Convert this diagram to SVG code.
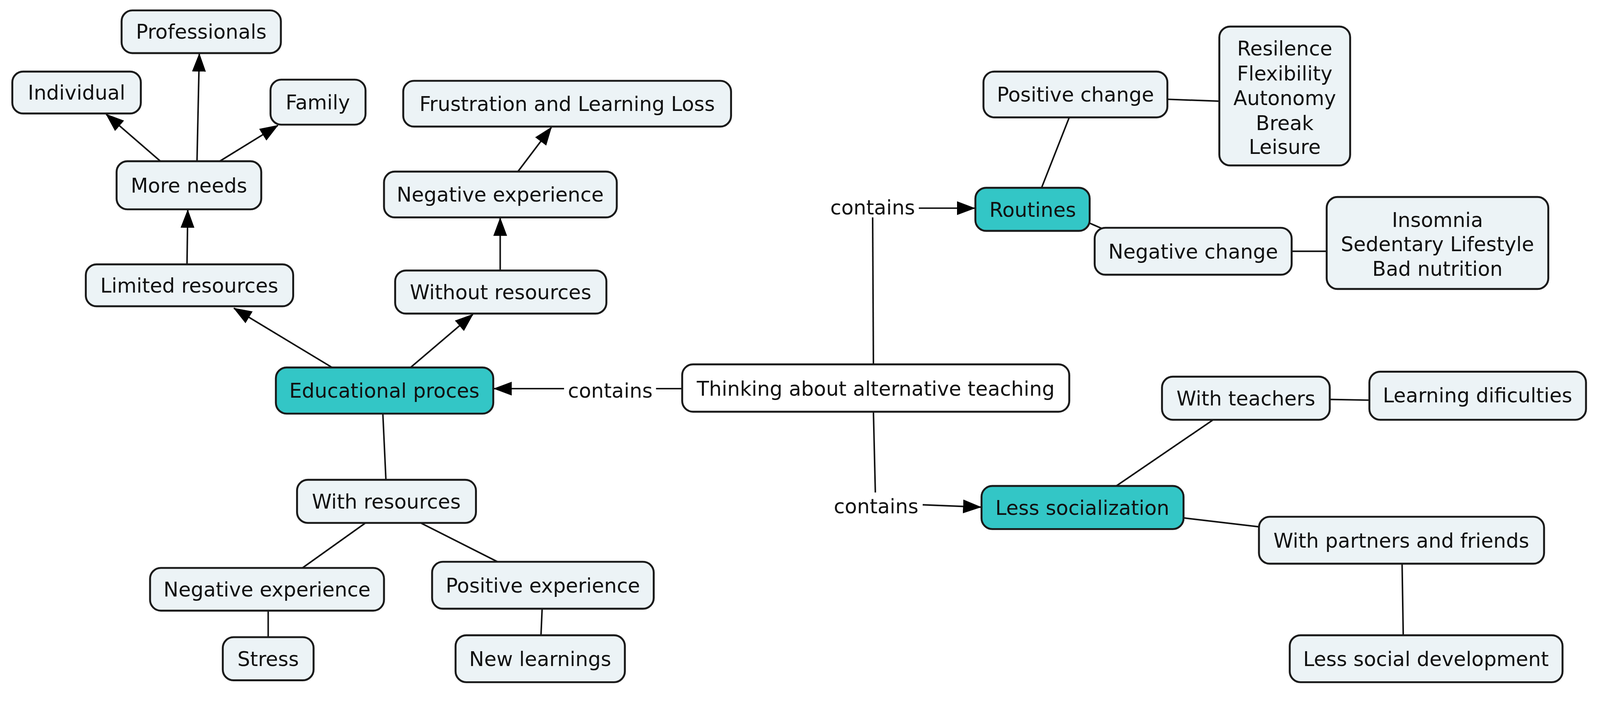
<svg xmlns="http://www.w3.org/2000/svg" width="4161" height="1815" viewBox="0 0 4161 1815">
<style>
.n{fill:#ECF3F6;stroke:#1a1a1a;stroke-width:5}
.t{fill:#33C6C6;stroke:#1a1a1a;stroke-width:5}
.w{fill:#ffffff;stroke:#1a1a1a;stroke-width:5}
text{font-family:"DejaVu Sans",Verdana,sans-serif;font-size:52px;fill:#111;text-anchor:middle}
.c line{stroke:#111;stroke-width:4}
</style>
<defs>
<marker id="a" markerUnits="userSpaceOnUse" markerWidth="48" markerHeight="36" refX="46" refY="18" orient="auto">
<path d="M0,0 L48,18 L0,36 Z" fill="#000"/>
</marker>
</defs>
<rect width="4161" height="1815" fill="#fff"/>
<g transform="scale(0.985)">
<g class="c" id="connectors">
<line x1="486" y1="687" x2="488" y2="546" marker-end="url(#a)"/>
<line x1="417" y1="419" x2="276" y2="297" marker-end="url(#a)"/>
<line x1="512" y1="419" x2="518" y2="140" marker-end="url(#a)"/>
<line x1="571" y1="419" x2="722" y2="326" marker-end="url(#a)"/>
<line x1="1300" y1="703" x2="1300" y2="567" marker-end="url(#a)"/>
<line x1="1346" y1="446" x2="1433" y2="331" marker-end="url(#a)"/>
<line x1="863" y1="955" x2="608" y2="801" marker-end="url(#a)"/>
<line x1="1067" y1="955" x2="1229" y2="817" marker-end="url(#a)"/>
<line x1="1773" y1="1010" x2="1705" y2="1010"/>
<line x1="1466" y1="1010" x2="1284" y2="1010" marker-end="url(#a)"/>
<line x1="995" y1="1075" x2="1003" y2="1247"/>
<line x1="950" y1="1359" x2="786" y2="1476"/>
<line x1="1093" y1="1359" x2="1293" y2="1460"/>
<line x1="697" y1="1587" x2="697" y2="1656"/>
<line x1="1409" y1="1582" x2="1406" y2="1651"/>
<line x1="2270" y1="947" x2="2268" y2="565"/>
<line x1="2388" y1="541" x2="2533" y2="541" marker-end="url(#a)"/>
<line x1="2270" y1="1070" x2="2275" y2="1280"/>
<line x1="2398" y1="1312" x2="2549" y2="1318" marker-end="url(#a)"/>
<line x1="2707" y1="488" x2="2779" y2="305"/>
<line x1="2832" y1="580" x2="2871" y2="597"/>
<line x1="3034" y1="258" x2="3169" y2="263"/>
<line x1="3357" y1="653" x2="3448" y2="653"/>
<line x1="2901" y1="1263" x2="3153" y2="1091"/>
<line x1="3456" y1="1038" x2="3559" y2="1040"/>
<line x1="3076" y1="1346" x2="3280" y2="1370"/>
<line x1="3644" y1="1465" x2="3647" y2="1651"/>
</g>
<g id="lbl-contains-1"><text x="1586" y="1034">contains</text></g>
<g id="lbl-contains-2"><text x="2268" y="557">contains</text></g>
<g id="lbl-contains-3"><text x="2277" y="1334">contains</text></g>
<g id="professionals"><rect class="n" x="316" y="27" width="414" height="111" rx="28"/><text x="523" y="101">Professionals</text></g>
<g id="individual"><rect class="n" x="32" y="186" width="334" height="109" rx="28"/><text x="199" y="259">Individual</text></g>
<g id="family"><rect class="n" x="703" y="207" width="247" height="117" rx="28"/><text x="826" y="284">Family</text></g>
<g id="frustration"><rect class="n" x="1048" y="210" width="852" height="119" rx="28"/><text x="1474" y="288">Frustration and Learning Loss</text></g>
<g id="more-needs"><rect class="n" x="303" y="419" width="376" height="125" rx="28"/><text x="491" y="500">More needs</text></g>
<g id="neg-exp-1"><rect class="n" x="998" y="446" width="605" height="119" rx="28"/><text x="1300" y="524">Negative experience</text></g>
<g id="limited"><rect class="n" x="223" y="687" width="539" height="109" rx="28"/><text x="492" y="760">Limited resources</text></g>
<g id="without"><rect class="n" x="1027" y="703" width="549" height="112" rx="28"/><text x="1301" y="778">Without resources</text></g>
<g id="educational"><rect class="t" x="717" y="955" width="565" height="120" rx="28"/><text x="999" y="1034">Educational proces</text></g>
<g id="thinking"><rect class="w" x="1773" y="947" width="1006" height="123" rx="28"/><text x="2276" y="1028">Thinking about alternative teaching</text></g>
<g id="with-resources"><rect class="n" x="772" y="1247" width="465" height="112" rx="28"/><text x="1004" y="1322">With resources</text></g>
<g id="neg-exp-2"><rect class="n" x="390" y="1476" width="608" height="111" rx="28"/><text x="694" y="1550">Negative experience</text></g>
<g id="pos-exp"><rect class="n" x="1123" y="1460" width="576" height="122" rx="28"/><text x="1411" y="1540">Positive experience</text></g>
<g id="stress"><rect class="n" x="579" y="1656" width="236" height="112" rx="28"/><text x="697" y="1731">Stress</text></g>
<g id="new-learnings"><rect class="n" x="1184" y="1651" width="440" height="122" rx="28"/><text x="1404" y="1731">New learnings</text></g>
<g id="positive-change"><rect class="n" x="2556" y="186" width="478" height="119" rx="28"/><text x="2795" y="264">Positive change</text></g>
<g id="resilence"><rect class="n" x="3169" y="69" width="340" height="361" rx="28"/>
<text x="3339" y="144">Resilence</text><text x="3339" y="209">Flexibility</text><text x="3339" y="273">Autonomy</text><text x="3339" y="338">Break</text><text x="3339" y="400">Leisure</text></g>
<g id="routines"><rect class="t" x="2535" y="488" width="297" height="112" rx="28"/><text x="2684" y="563">Routines</text></g>
<g id="negative-change"><rect class="n" x="2845" y="592" width="512" height="122" rx="28"/><text x="3101" y="672">Negative change</text></g>
<g id="insomnia"><rect class="n" x="3448" y="512" width="576" height="239" rx="28"/>
<text x="3736" y="590">Insomnia</text><text x="3736" y="653">Sedentary Lifestyle</text><text x="3736" y="717">Bad nutrition</text></g>
<g id="with-teachers"><rect class="n" x="3020" y="979" width="436" height="112" rx="28"/><text x="3238" y="1054">With teachers</text></g>
<g id="learning-dif"><rect class="n" x="3559" y="966" width="563" height="125" rx="28"/><text x="3840" y="1046">Learning dificulties</text></g>
<g id="less-socialization"><rect class="t" x="2551" y="1263" width="525" height="112" rx="28"/><text x="2813" y="1338">Less socialization</text></g>
<g id="with-partners"><rect class="n" x="3272" y="1343" width="741" height="122" rx="28"/><text x="3642" y="1423">With partners and friends</text></g>
<g id="less-social-dev"><rect class="n" x="3352" y="1651" width="709" height="122" rx="28"/><text x="3706" y="1731">Less social development</text></g>
</g>
</svg>
